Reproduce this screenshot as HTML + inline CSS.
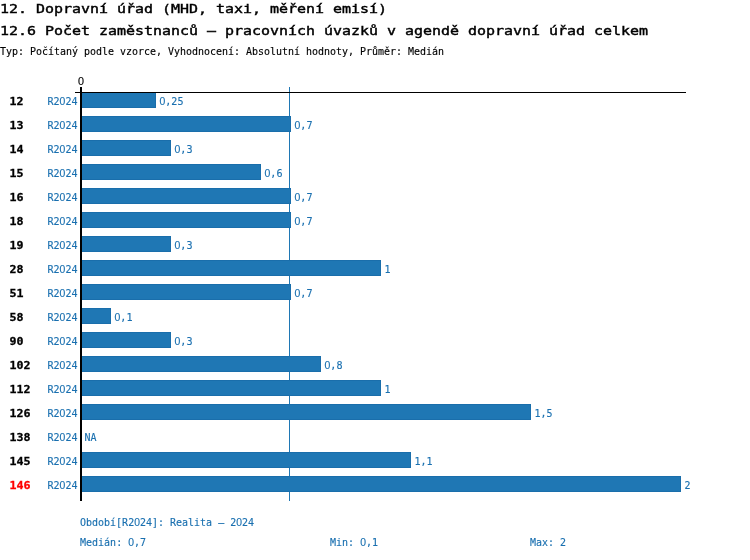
<!DOCTYPE html>
<html lang="cs"><head><meta charset="utf-8"><title>12.6 Počet zaměstnanců</title>
<style>
html,body{margin:0;padding:0;background:#fff;}
svg{display:block;}
text{font-family:"DejaVu Sans Mono","Liberation Mono",monospace;white-space:pre;}
.t{font-size:12.8px;fill:#000;stroke:#000;stroke-width:0.42px;}
.s{font-size:11px;stroke-width:0.15px;}
.z{font-family:"Liberation Sans",sans-serif;font-size:11.4px;}
.b{font-size:11px;font-weight:bold;stroke-width:0.3px;}
</style></head><body>
<svg width="750" height="560" viewBox="0 0 750 560">
<rect width="750" height="560" fill="#fff"/>
<text class="t" x="0" y="13" textLength="387" lengthAdjust="spacingAndGlyphs">12. Dopravní úřad (MHD, taxi, měření emisí)</text>
<text class="t" x="0" y="35" textLength="648" lengthAdjust="spacingAndGlyphs">12.6 Počet zaměstnanců – pracovních úvazků v agendě dopravní úřad celkem</text>
<text class="s" x="0" y="55" fill="#000" stroke="#000" textLength="444" lengthAdjust="spacingAndGlyphs">Typ: Počítaný podle vzorce, Vyhodnocení: Absolutní hodnoty, Průměr: Medián</text>
<rect x="289" y="87" width="1" height="414" fill="#1f77b4"/>
<rect x="81.5" y="92.5" width="74" height="15" fill="#1f77b4" stroke="#1a6eab" stroke-width="1"/>
<text class="b" x="9.6" y="105" fill="#000" stroke="#000" textLength="14" lengthAdjust="spacingAndGlyphs">12</text>
<text class="s" x="47.5" y="105" fill="#1a70b0" stroke="#1a70b0" textLength="30" lengthAdjust="spacingAndGlyphs">R2<tspan class="z">0</tspan>24</text>
<text class="s" x="159.5" y="105" fill="#1a70b0" stroke="#1a70b0" textLength="24" lengthAdjust="spacingAndGlyphs"><tspan class="z">0</tspan>,25</text>
<rect x="81.5" y="116.5" width="209" height="15" fill="#1f77b4" stroke="#1a6eab" stroke-width="1"/>
<text class="b" x="9.6" y="129" fill="#000" stroke="#000" textLength="14" lengthAdjust="spacingAndGlyphs">13</text>
<text class="s" x="47.5" y="129" fill="#1a70b0" stroke="#1a70b0" textLength="30" lengthAdjust="spacingAndGlyphs">R2<tspan class="z">0</tspan>24</text>
<text class="s" x="294.5" y="129" fill="#1a70b0" stroke="#1a70b0" textLength="18" lengthAdjust="spacingAndGlyphs"><tspan class="z">0</tspan>,7</text>
<rect x="81.5" y="140.5" width="89" height="15" fill="#1f77b4" stroke="#1a6eab" stroke-width="1"/>
<text class="b" x="9.6" y="153" fill="#000" stroke="#000" textLength="14" lengthAdjust="spacingAndGlyphs">14</text>
<text class="s" x="47.5" y="153" fill="#1a70b0" stroke="#1a70b0" textLength="30" lengthAdjust="spacingAndGlyphs">R2<tspan class="z">0</tspan>24</text>
<text class="s" x="174.5" y="153" fill="#1a70b0" stroke="#1a70b0" textLength="18" lengthAdjust="spacingAndGlyphs"><tspan class="z">0</tspan>,3</text>
<rect x="81.5" y="164.5" width="179" height="15" fill="#1f77b4" stroke="#1a6eab" stroke-width="1"/>
<text class="b" x="9.6" y="177" fill="#000" stroke="#000" textLength="14" lengthAdjust="spacingAndGlyphs">15</text>
<text class="s" x="47.5" y="177" fill="#1a70b0" stroke="#1a70b0" textLength="30" lengthAdjust="spacingAndGlyphs">R2<tspan class="z">0</tspan>24</text>
<text class="s" x="264.5" y="177" fill="#1a70b0" stroke="#1a70b0" textLength="18" lengthAdjust="spacingAndGlyphs"><tspan class="z">0</tspan>,6</text>
<rect x="81.5" y="188.5" width="209" height="15" fill="#1f77b4" stroke="#1a6eab" stroke-width="1"/>
<text class="b" x="9.6" y="201" fill="#000" stroke="#000" textLength="14" lengthAdjust="spacingAndGlyphs">16</text>
<text class="s" x="47.5" y="201" fill="#1a70b0" stroke="#1a70b0" textLength="30" lengthAdjust="spacingAndGlyphs">R2<tspan class="z">0</tspan>24</text>
<text class="s" x="294.5" y="201" fill="#1a70b0" stroke="#1a70b0" textLength="18" lengthAdjust="spacingAndGlyphs"><tspan class="z">0</tspan>,7</text>
<rect x="81.5" y="212.5" width="209" height="15" fill="#1f77b4" stroke="#1a6eab" stroke-width="1"/>
<text class="b" x="9.6" y="225" fill="#000" stroke="#000" textLength="14" lengthAdjust="spacingAndGlyphs">18</text>
<text class="s" x="47.5" y="225" fill="#1a70b0" stroke="#1a70b0" textLength="30" lengthAdjust="spacingAndGlyphs">R2<tspan class="z">0</tspan>24</text>
<text class="s" x="294.5" y="225" fill="#1a70b0" stroke="#1a70b0" textLength="18" lengthAdjust="spacingAndGlyphs"><tspan class="z">0</tspan>,7</text>
<rect x="81.5" y="236.5" width="89" height="15" fill="#1f77b4" stroke="#1a6eab" stroke-width="1"/>
<text class="b" x="9.6" y="249" fill="#000" stroke="#000" textLength="14" lengthAdjust="spacingAndGlyphs">19</text>
<text class="s" x="47.5" y="249" fill="#1a70b0" stroke="#1a70b0" textLength="30" lengthAdjust="spacingAndGlyphs">R2<tspan class="z">0</tspan>24</text>
<text class="s" x="174.5" y="249" fill="#1a70b0" stroke="#1a70b0" textLength="18" lengthAdjust="spacingAndGlyphs"><tspan class="z">0</tspan>,3</text>
<rect x="81.5" y="260.5" width="299" height="15" fill="#1f77b4" stroke="#1a6eab" stroke-width="1"/>
<text class="b" x="9.6" y="273" fill="#000" stroke="#000" textLength="14" lengthAdjust="spacingAndGlyphs">28</text>
<text class="s" x="47.5" y="273" fill="#1a70b0" stroke="#1a70b0" textLength="30" lengthAdjust="spacingAndGlyphs">R2<tspan class="z">0</tspan>24</text>
<text class="s" x="384.5" y="273" fill="#1a70b0" stroke="#1a70b0" textLength="6" lengthAdjust="spacingAndGlyphs">1</text>
<rect x="81.5" y="284.5" width="209" height="15" fill="#1f77b4" stroke="#1a6eab" stroke-width="1"/>
<text class="b" x="9.6" y="297" fill="#000" stroke="#000" textLength="14" lengthAdjust="spacingAndGlyphs">51</text>
<text class="s" x="47.5" y="297" fill="#1a70b0" stroke="#1a70b0" textLength="30" lengthAdjust="spacingAndGlyphs">R2<tspan class="z">0</tspan>24</text>
<text class="s" x="294.5" y="297" fill="#1a70b0" stroke="#1a70b0" textLength="18" lengthAdjust="spacingAndGlyphs"><tspan class="z">0</tspan>,7</text>
<rect x="81.5" y="308.5" width="29" height="15" fill="#1f77b4" stroke="#1a6eab" stroke-width="1"/>
<text class="b" x="9.6" y="321" fill="#000" stroke="#000" textLength="14" lengthAdjust="spacingAndGlyphs">58</text>
<text class="s" x="47.5" y="321" fill="#1a70b0" stroke="#1a70b0" textLength="30" lengthAdjust="spacingAndGlyphs">R2<tspan class="z">0</tspan>24</text>
<text class="s" x="114.5" y="321" fill="#1a70b0" stroke="#1a70b0" textLength="18" lengthAdjust="spacingAndGlyphs"><tspan class="z">0</tspan>,1</text>
<rect x="81.5" y="332.5" width="89" height="15" fill="#1f77b4" stroke="#1a6eab" stroke-width="1"/>
<text class="b" x="9.6" y="345" fill="#000" stroke="#000" textLength="14" lengthAdjust="spacingAndGlyphs">90</text>
<text class="s" x="47.5" y="345" fill="#1a70b0" stroke="#1a70b0" textLength="30" lengthAdjust="spacingAndGlyphs">R2<tspan class="z">0</tspan>24</text>
<text class="s" x="174.5" y="345" fill="#1a70b0" stroke="#1a70b0" textLength="18" lengthAdjust="spacingAndGlyphs"><tspan class="z">0</tspan>,3</text>
<rect x="81.5" y="356.5" width="239" height="15" fill="#1f77b4" stroke="#1a6eab" stroke-width="1"/>
<text class="b" x="9.6" y="369" fill="#000" stroke="#000" textLength="21" lengthAdjust="spacingAndGlyphs">102</text>
<text class="s" x="47.5" y="369" fill="#1a70b0" stroke="#1a70b0" textLength="30" lengthAdjust="spacingAndGlyphs">R2<tspan class="z">0</tspan>24</text>
<text class="s" x="324.5" y="369" fill="#1a70b0" stroke="#1a70b0" textLength="18" lengthAdjust="spacingAndGlyphs"><tspan class="z">0</tspan>,8</text>
<rect x="81.5" y="380.5" width="299" height="15" fill="#1f77b4" stroke="#1a6eab" stroke-width="1"/>
<text class="b" x="9.6" y="393" fill="#000" stroke="#000" textLength="21" lengthAdjust="spacingAndGlyphs">112</text>
<text class="s" x="47.5" y="393" fill="#1a70b0" stroke="#1a70b0" textLength="30" lengthAdjust="spacingAndGlyphs">R2<tspan class="z">0</tspan>24</text>
<text class="s" x="384.5" y="393" fill="#1a70b0" stroke="#1a70b0" textLength="6" lengthAdjust="spacingAndGlyphs">1</text>
<rect x="81.5" y="404.5" width="449" height="15" fill="#1f77b4" stroke="#1a6eab" stroke-width="1"/>
<text class="b" x="9.6" y="417" fill="#000" stroke="#000" textLength="21" lengthAdjust="spacingAndGlyphs">126</text>
<text class="s" x="47.5" y="417" fill="#1a70b0" stroke="#1a70b0" textLength="30" lengthAdjust="spacingAndGlyphs">R2<tspan class="z">0</tspan>24</text>
<text class="s" x="534.5" y="417" fill="#1a70b0" stroke="#1a70b0" textLength="18" lengthAdjust="spacingAndGlyphs">1,5</text>
<text class="b" x="9.6" y="441" fill="#000" stroke="#000" textLength="21" lengthAdjust="spacingAndGlyphs">138</text>
<text class="s" x="47.5" y="441" fill="#1a70b0" stroke="#1a70b0" textLength="30" lengthAdjust="spacingAndGlyphs">R2<tspan class="z">0</tspan>24</text>
<text class="s" x="84.5" y="441" fill="#1a70b0" stroke="#1a70b0" textLength="12" lengthAdjust="spacingAndGlyphs">NA</text>
<rect x="81.5" y="452.5" width="329" height="15" fill="#1f77b4" stroke="#1a6eab" stroke-width="1"/>
<text class="b" x="9.6" y="465" fill="#000" stroke="#000" textLength="21" lengthAdjust="spacingAndGlyphs">145</text>
<text class="s" x="47.5" y="465" fill="#1a70b0" stroke="#1a70b0" textLength="30" lengthAdjust="spacingAndGlyphs">R2<tspan class="z">0</tspan>24</text>
<text class="s" x="414.5" y="465" fill="#1a70b0" stroke="#1a70b0" textLength="18" lengthAdjust="spacingAndGlyphs">1,1</text>
<rect x="81.5" y="476.5" width="599" height="15" fill="#1f77b4" stroke="#1a6eab" stroke-width="1"/>
<text class="b" x="9.6" y="489" fill="#ff0000" stroke="#ff0000" textLength="21" lengthAdjust="spacingAndGlyphs">146</text>
<text class="s" x="47.5" y="489" fill="#1a70b0" stroke="#1a70b0" textLength="30" lengthAdjust="spacingAndGlyphs">R2<tspan class="z">0</tspan>24</text>
<text class="s" x="684.5" y="489" fill="#1a70b0" stroke="#1a70b0" textLength="6" lengthAdjust="spacingAndGlyphs">2</text>
<rect x="75" y="92" width="611" height="1" fill="#000"/>
<rect x="80" y="87" width="2" height="414" fill="#000"/>
<text class="s" x="78" y="85" fill="#000" stroke="#000" textLength="6" lengthAdjust="spacingAndGlyphs"><tspan class="z">0</tspan></text>
<text class="s" x="80" y="526" fill="#1a70b0" stroke="#1a70b0" textLength="174" lengthAdjust="spacingAndGlyphs">Období[R2<tspan class="z">0</tspan>24]: Realita – 2<tspan class="z">0</tspan>24</text>
<text class="s" x="80" y="546" fill="#1a70b0" stroke="#1a70b0" textLength="66" lengthAdjust="spacingAndGlyphs">Medián: <tspan class="z">0</tspan>,7</text>
<text class="s" x="330" y="546" fill="#1a70b0" stroke="#1a70b0" textLength="48" lengthAdjust="spacingAndGlyphs">Min: <tspan class="z">0</tspan>,1</text>
<text class="s" x="530" y="546" fill="#1a70b0" stroke="#1a70b0" textLength="36" lengthAdjust="spacingAndGlyphs">Max: 2</text>
</svg>
</body></html>
